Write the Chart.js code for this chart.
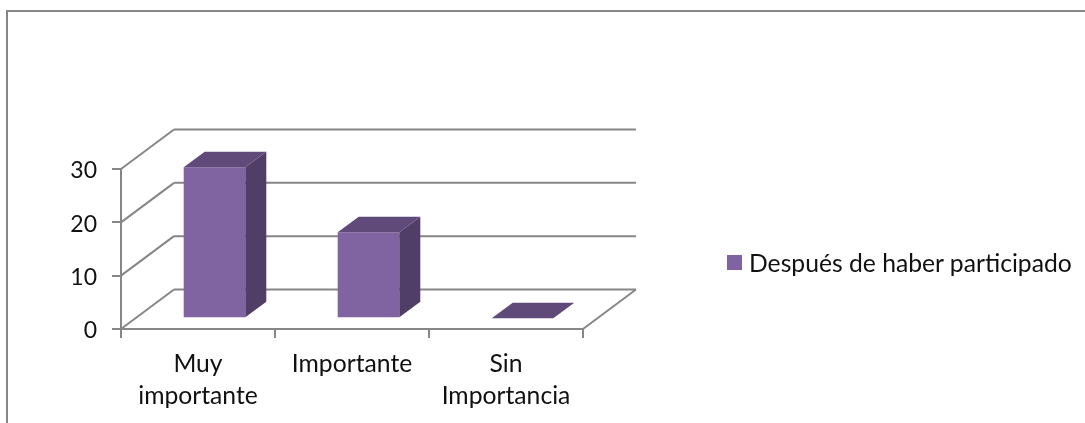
<!DOCTYPE html>
<html lang="es">
<head>
<meta charset="utf-8">
<title>Después de haber participado</title>
<script src="https://cdn.jsdelivr.net/npm/chart.js@4"></script>
<style>
  html, body { margin: 0; padding: 0; background: #fff; overflow: hidden; }
  #wrap { position: relative; width: 1085px; height: 423px; }
  #frame { position: absolute; left: 6px; top: 10px; right: 0; bottom: 0; border-top: 2px solid #868686; border-left: 2px solid #868686; }
  #chart { position: absolute; left: 0; top: 0; }
  #legend { position: absolute; left: 727px; top: 247px; height: 30px; display: flex; align-items: center; font: 24.7px Lato, sans-serif; color: #111; white-space: nowrap; }
  #legend i { display: block; width: 15px; height: 15px; margin-right: 7px; }
</style>
</head>
<body>
<div id="wrap">
  <div id="frame"></div>
  <canvas id="chart" width="1085" height="423"></canvas>
  <div id="legend"></div>
</div>
<script>
// ── Data ──
const categories = [['Muy', 'importante'], 'Importante', ['Sin', 'Importancia']];
const seriesName = 'Después de haber participado';
const seriesValues = [28.3, 16.1, 0];
const yTicks = [0, 10, 20, 30];

const COLORS = {
  front: '#8064A2',
  top: '#604A7A',
  side: '#513E66',
  axis: '#868686',
  text: '#111111',
};

// 3D projection: how far the back wall sits from the front, and where bars stand on the floor
const WALL = { dx: 53, dy: -39.5 };
const BAR_SHIFT = { dx: 16.5, dy: -10.8 };
const BAR_DEPTH = { dx: 21, dy: -15.5 };

function line(ctx, x1, y1, x2, y2) {
  ctx.beginPath();
  ctx.moveTo(x1, y1);
  ctx.lineTo(x2, y2);
  ctx.stroke();
}

function poly(ctx, pts, color) {
  ctx.fillStyle = color;
  ctx.beginPath();
  pts.forEach((p, i) => (i ? ctx.lineTo(p[0], p[1]) : ctx.moveTo(p[0], p[1])));
  ctx.closePath();
  ctx.fill();
}

// ── Back wall + floor ──
const wallPlugin = {
  id: 'wall',
  // Lato sits a bit high on the tick, nudge the y labels down
  afterUpdate(chart) {
    chart.scales.y.getLabelItems().forEach(item => { item.options.translation[1] += 2; });
  },
  beforeDatasetsDraw(chart) {
    const { ctx, scales: { x, y } } = chart;
    ctx.save();
    ctx.strokeStyle = COLORS.axis;
    ctx.lineWidth = 2;
    yTicks.forEach(v => {
      const py = y.getPixelForValue(v);
      line(ctx, x.left, py, x.left + WALL.dx, py + WALL.dy);
      line(ctx, x.left + WALL.dx, py + WALL.dy, x.right + WALL.dx, py + WALL.dy);
    });
    const y0 = y.getPixelForValue(0);
    line(ctx, x.right, y0, x.right + WALL.dx, y0 + WALL.dy);
    ctx.restore();
  },
  // bars stand inside the floor, not on the front edge
  beforeDatasetDraw(chart) {
    chart.ctx.save();
    chart.ctx.translate(BAR_SHIFT.dx, BAR_SHIFT.dy);
  },
  afterDatasetDraw(chart, args) {
    const ctx = chart.ctx;
    args.meta.data.forEach(bar => {
      const l = bar.x - bar.width / 2;
      const r = bar.x + bar.width / 2;
      const d = BAR_DEPTH;
      poly(ctx, [[r, bar.y], [r + d.dx, bar.y + d.dy], [r + d.dx, bar.base + d.dy], [r, bar.base]], COLORS.side);
      poly(ctx, [[l, bar.y], [l + d.dx, bar.y + d.dy], [r + d.dx, bar.y + d.dy], [r, bar.y]], COLORS.top);
    });
    ctx.restore();
  },
};

// ── Chart ──
new Chart(document.getElementById('chart'), {
  type: 'bar',
  data: {
    labels: categories,
    datasets: [{
      label: seriesName,
      data: seriesValues,
      backgroundColor: COLORS.front,
      barPercentage: 0.4,
      categoryPercentage: 1,
    }],
  },
  options: {
    responsive: false,
    animation: false,
    layout: { padding: { left: 0, top: 169, right: 502, bottom: 0 } },
    plugins: { legend: { display: false }, tooltip: { enabled: false } },
    scales: {
      x: {
        afterFit: s => { s.height = 94; },
        border: { color: COLORS.axis, width: 2 },
        grid: { drawOnChartArea: false, color: COLORS.axis, lineWidth: 2, tickLength: 9 },
        ticks: {
          color: COLORS.text, padding: 10, maxRotation: 0, autoSkip: false,
          font: { family: 'Lato', size: 24.7, lineHeight: 1.3 },
        },
      },
      y: {
        min: 0,
        max: 30,
        afterFit: s => { s.width = 121; },
        afterBuildTicks: s => { s.ticks = yTicks.map(value => ({ value })); },
        border: { color: COLORS.axis, width: 2 },
        grid: { drawOnChartArea: false, color: COLORS.axis, lineWidth: 2, tickLength: 9 },
        ticks: { color: COLORS.text, padding: 15, font: { family: 'Lato', size: 23 } },
      },
    },
  },
  plugins: [wallPlugin],
});

// ── Legend ──
const legendEl = document.getElementById('legend');
legendEl.innerHTML = `<i style="background:${COLORS.front}"></i><span>${seriesName}</span>`;
</script>
</body>
</html>
